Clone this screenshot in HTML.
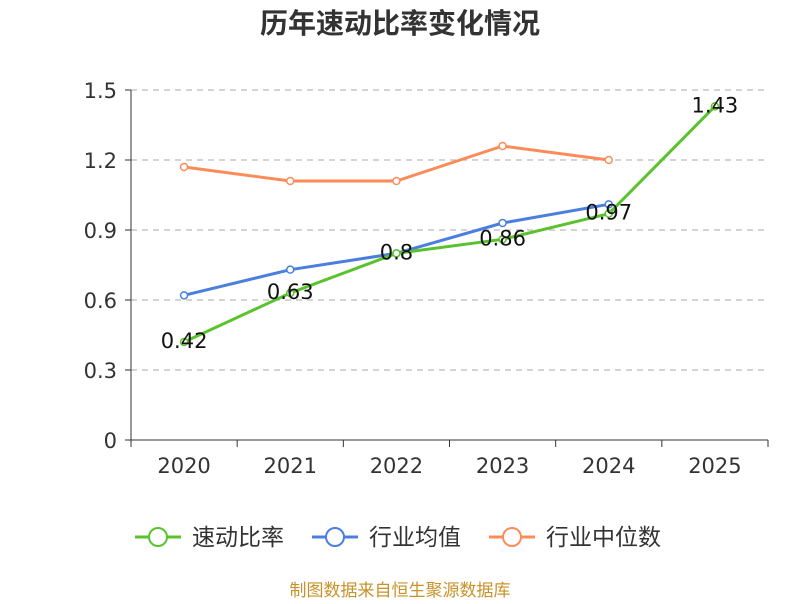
<!DOCTYPE html>
<html><head><meta charset="utf-8"><style>
body{margin:0;background:#fff;font-family:"DejaVu Sans","Noto Sans CJK SC",sans-serif}
svg text{font-family:"DejaVu Sans","Noto Sans CJK SC",sans-serif}
</style></head><body>
<svg id="c" width="800" height="600">
<text x="400" y="33" text-anchor="middle" font-size="28" font-weight="bold" fill="#333" style="font-family:'Noto Sans CJK SC',sans-serif">历年速动比率变化情况</text>
<g id="grid"></g><g id="axes"></g><g id="series"></g>
<g id="legend"></g>
<text x="400" y="596" text-anchor="middle" font-size="17" fill="#c8922a" style="font-family:'Noto Sans CJK SC',sans-serif">制图数据来自恒生聚源数据库</text>
</svg>
<script>
const categories=["2020","2021","2022","2023","2024","2025"];
const quickRatio=[0.42,0.63,0.8,0.86,0.97,1.43];
const industryAvg=[0.62,0.73,0.80,0.93,1.01];
const industryMedian=[1.17,1.11,1.11,1.26,1.20];
const yTicks=[0,0.3,0.6,0.9,1.2,1.5];
const yTickLabels=["0","0.3","0.6","0.9","1.2","1.5"];
const ns="http://www.w3.org/2000/svg";
const L=131,R=768,T=90,B=440;
const bw=(R-L)/categories.length;
const x=i=>L+bw*(i+0.5);
const y=v=>B-(v/1.5)*(B-T);
function mk(tag,attrs,parent){const e=document.createElementNS(ns,tag);for(const k in attrs)e.setAttribute(k,attrs[k]);parent.appendChild(e);return e;}
const grid=document.getElementById('grid'),axes=document.getElementById('axes'),ser=document.getElementById('series'),leg=document.getElementById('legend');
yTicks.forEach((t,i)=>{
 if(t>0){const g=mk('line',{x1:L,x2:R,y1:y(t),y2:y(t),stroke:'#bbb','stroke-dasharray':'6,5','stroke-width':1.3},grid);
 
 }
 mk('line',{x1:L-6,x2:L,y1:y(t),y2:y(t),stroke:'#333'},axes);
 const lb=mk('text',{x:L-14,y:y(t)+8,'text-anchor':'end','font-size':21,fill:'#333'},axes);lb.textContent=yTickLabels[i];
 
 
});
mk('line',{x1:L,x2:L,y1:T,y2:B,stroke:'#333'},axes);
mk('line',{x1:L,x2:R,y1:B,y2:B,stroke:'#333'},axes);
for(let i=0;i<=categories.length;i++)mk('line',{x1:L+bw*i,x2:L+bw*i,y1:B,y2:B+7,stroke:'#333'},axes);
categories.forEach((c,i)=>{const t=mk('text',{x:x(i),y:B+33,'text-anchor':'middle','font-size':21,fill:'#333'},axes);t.textContent=c;
 
 });
function line(data,color,name){
 const g=mk('g',{},ser);
 
 
 mk('polyline',{points:data.map((v,i)=>x(i)+','+y(v)).join(' '),fill:'none',stroke:color,'stroke-width':3},g);
 data.forEach((v,i)=>{const p=mk('circle',{cx:x(i),cy:y(v),r:3.5,fill:'#fff',stroke:color,'stroke-width':1.5},g);
 
 });
}
line(industryMedian,'#fb8c5a','industry-median-line');
line(industryAvg,'#4a7fe0','industry-average-line');
line(quickRatio,'#5ac22c','quick-ratio-line');
quickRatio.forEach((v,i)=>{const t=mk('text',{x:x(i),y:y(v)+6,'text-anchor':'middle','font-size':21,fill:'#111'},ser);t.textContent=String(v);
 
 });
[["速动比率","#5ac22c",135],["行业均值","#4a7fe0",312],["行业中位数","#fb8c5a",489]].forEach(([n,c,lx])=>{
 const g=mk('g',{},leg);
 
 
 mk('line',{x1:lx,x2:lx+46,y1:537,y2:537,stroke:c,'stroke-width':3},g);
 mk('circle',{cx:lx+23,cy:537,r:9,fill:'#fff',stroke:c,'stroke-width':2},g);
 const t=mk('text',{x:lx+57,y:545,'font-size':23,fill:'#333'},g);t.textContent=n;
});
</script>
</body></html>
